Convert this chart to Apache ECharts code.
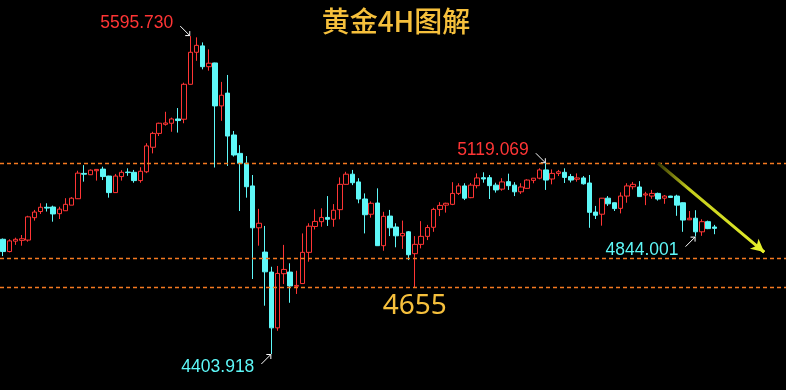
<!DOCTYPE html>
<html><head><meta charset="utf-8">
<script src="https://cdn.jsdelivr.net/npm/echarts@6/dist/echarts.min.js"></script>
<style>html,body{margin:0;padding:0;background:#000;}#c{width:786px;height:390px;}</style>
</head><body><div id="c"></div>
<script>
// ---- data (4H gold candles) ----
const opens = [4834,4788,4827,4830,4831,4915,4938,4954,4955,4930,4941,4962,4986,5081,5076,5091,5097,5071,5009,5069,5086,5085,5054,5087,5179,5231,5265,5269,5285,5284,5415,5535,5559,5481,5495,5334,5382,5225,5156,5119,5034,4877,4786,4711,4502,4705,4711,4658,4668,4785,4882,4900,4916,4909,4945,5040,5078,5049,4985,4928,4970,4810,4921,4880,4847,4862,4780,4815,4845,4879,4946,4962,4965,5006,5034,4990,5035,5065,5065,5037,5022,5050,5037,5012,5025,5055,5063,5094,5060,5081,5085,5069,5059,5064,5045,4936,4928,4988,4971,4950,4996,5031,5030,5000,4996,5006,4988,4996,4996,4971,4907,4913,4862,4900,4880];
const closes = [4788,4828,4834,4836,4918,4936,4954,4951,4929,4947,4965,4988,5082,5078,5093,5096,5069,5009,5071,5085,5084,5054,5089,5184,5231,5269,5270,5285,5279,5415,5535,5561,5481,5494,5334,5374,5221,5150,5119,5031,4877,4894,4712,4502,4706,4721,4659,4661,4785,4883,4901,4916,4909,4943,5040,5078,5046,4985,4926,4969,4810,4920,4877,4847,4856,4776,4815,4845,4878,4946,4961,4969,5006,5034,4988,5037,5064,5060,5035,5019,5049,5035,5012,5030,5056,5063,5094,5056,5081,5087,5066,5056,5064,5042,4935,4924,4988,4967,4949,4996,5034,5040,4994,5004,5006,4985,4996,4991,4962,4906,4913,4862,4900,4874,4875];
const lows = [4771,4785,4813,4810,4825,4904,4929,4938,4900,4910,4940,4962,4985,5050,5075,5054,5056,4990,5008,5054,5072,5046,5046,5082,5156,5221,5260,5237,5234,5269,5414,5503,5471,5466,5103,5278,5109,5144,4940,4990,4685,4810,4585,4403.918,4491,4666,4596,4629,4667,4750,4871,4881,4884,4881,4909,5039,5037,4969,4856,4915,4809,4791,4846,4804,4798,4756,4655,4800,4831,4862,4921,4934,4962,5000,4981,4988,5025,5046,4985,5009,5016,5019,4996,5004,5024,5044,5059,5019,5040,5071,5045,5047,5050,5039,4877,4910,4885,4959,4940,4931,4971,5021,4993,4962,4986,4979,4967,4990,4922,4862,4906,4844.001,4847,4872,4853];
const highs = [4837,4834,4840,4850,4922,4944,4969,4969,4960,4956,4988,4992,5091,5112,5096,5097,5106,5072,5079,5093,5100,5094,5104,5194,5237,5271,5312,5290,5326,5421,5595.73,5591,5572,5546,5496,5424,5450,5240,5187,5146,5075,4948,4884,4731,4734,4813,4744,4716,4856,4894,4946,4950,4996,4966,5066,5087,5094,5063,5006,4976,5025,4937,4944,4894,4904,4865,4846,4902,4888,4952,4973,4971,5048,5044,5044,5045,5081,5085,5075,5046,5063,5080,5048,5044,5059,5063,5100,5119.069,5096,5094,5100,5079,5081,5071,5075,4959,4989,4996,4972,5010,5044,5049,5052,5012,5019,5009,5000,4997,5001,4972,4940,4943,4909,4904,4888];
const levelLines = [5119.069, 4764, 4655];
const supportText = '4655';
const supportAt = [66, 4655];
const titleText = '黄金4H图解';
const trendFrom = [105, 5119.069];
const trendNear = [121, 4805.6];
const trendTo = [122, 4786];
const markedHighs = [30, 87];
const markedLows = [111, 43];
const padSlots = 11;

// ---- build ----
const RED = '#ff3535', CYAN = '#5ef8f8', ORANGE = '#f57a20', GOLD = '#f6c03c', YEL = '#e6f02c';
const categories = [];
for (let i = 0; i < opens.length + padSlots; i++) categories.push(String(i + 1));
const kData = opens.map((o, i) => [o, closes[i], lows[i], highs[i]]);

const chart = echarts.init(document.getElementById('c'), null, {renderer: 'canvas'});
const markData = levelLines.map(v => ({yAxis: v, lineStyle: {color: ORANGE, type: [4, 3], width: 1.4}}));
markData.push([
  {coord: trendFrom, symbol: 'none', lineStyle: {width: 3, type: 'solid',
    color: new echarts.graphic.LinearGradient(0, 0, 1, 0, [
      {offset: 0, color: '#2a2a00'}, {offset: 0.3, color: '#c4cc1c'}, {offset: 1, color: YEL}])}},
  {coord: trendTo, symbol: 'none'}
]);
markData.push([
  {coord: trendNear, symbol: 'none', lineStyle: {width: 3, type: 'solid', color: YEL}},
  {coord: trendTo, symbol: 'arrow', symbolSize: [10, 13]}
]);

chart.setOption({
  backgroundColor: '#000',
  animation: false,
  grid: {left: -1.1, top: 0, width: 788.4, height: 390},
  xAxis: {type: 'category', data: categories, boundaryGap: true,
    axisLine: {show: false}, axisTick: {show: false}, axisLabel: {show: false}, splitLine: {show: false}},
  yAxis: {type: 'value', min: 4269, max: 5731, show: false, splitLine: {show: false}},
  series: [{
    type: 'candlestick',
    data: kData,
    barWidth: 5,
    itemStyle: {color: '#000', borderColor: RED, color0: CYAN, borderColor0: CYAN, borderWidth: 1},
    markLine: {silent: true, symbol: 'none', label: {show: false}, data: markData}
  }]
});

function px(i, v) { return chart.convertToPixel({gridIndex: 0}, [i, v]); }
const g = [];
function note(i, v, color, up) {
  const p = px(i, v);
  const s = up ? 1 : -1; // up: arrow comes from above-left
  const sx = p[0] - 10, sy = p[1] - 10 * s;
  g.push({type: 'line', shape: {x1: sx, y1: sy, x2: p[0] - 0.5, y2: p[1] - 0.5 * s}, style: {stroke: '#fff', lineWidth: 1}});
  g.push({type: 'polyline', shape: {points: [[p[0] - 5, p[1] - 0.5 * s], [p[0] - 0.5, p[1] - 0.5 * s], [p[0] - 0.5, p[1] - 5 * s]]}, style: {stroke: '#fff', lineWidth: 1, fill: null}});
  g.push({type: 'text', style: {text: v.toFixed(3), x: p[0] - 17, y: p[1] - 12.8 * s + (up ? 0 : 0.5),
    fill: color, font: '17.5px "Liberation Sans", Arial, sans-serif', align: 'right', verticalAlign: 'middle',
    textAlign: 'right', textVerticalAlign: 'middle'}});
}
markedHighs.forEach(i => note(i, highs[i], RED, true));
markedLows.forEach(i => note(i, lows[i], CYAN, false));
const sp = px(supportAt[0], supportAt[1]);
g.push({type: 'text', style: {text: supportText, x: sp[0], y: sp[1] + 19, fill: GOLD,
  font: '28px "Noto Sans", sans-serif', align: 'center', verticalAlign: 'middle', textAlign: 'center', textVerticalAlign: 'middle'}});
g.push({type: 'text', style: {text: titleText, x: 396, y: 21.5, fill: GOLD,
  font: '500 28px "Noto Sans CJK SC", sans-serif', align: 'center', verticalAlign: 'middle', textAlign: 'center', textVerticalAlign: 'middle'}});
chart.setOption({graphic: g});
</script></body></html>
